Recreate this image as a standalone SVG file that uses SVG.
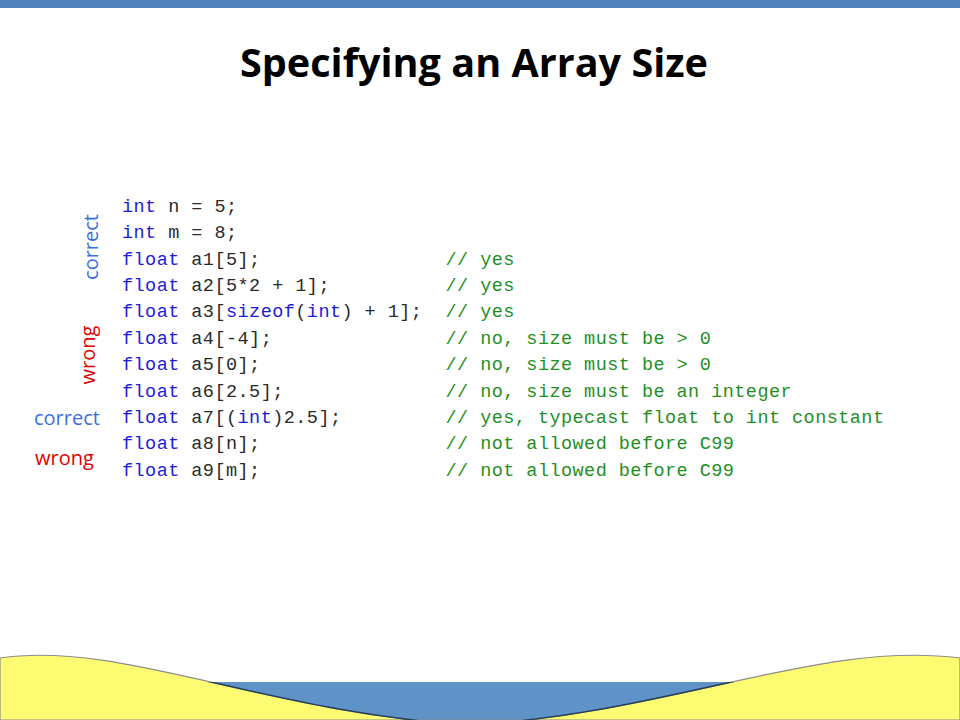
<svg xmlns="http://www.w3.org/2000/svg" width="960" height="720" viewBox="0 0 960 720">
<style>
.code{font-family:"Liberation Mono","DejaVu Sans Mono",monospace;font-size:18.5px;letter-spacing:0.45px;fill:#2a2a2a}
.k{fill:#1c1cd8}
.cm{font-family:"Liberation Mono","DejaVu Sans Mono",monospace;font-size:18.5px;letter-spacing:0.45px;fill:#1f8f1f}
.lab{font-family:"Open Sans","Liberation Sans",sans-serif;font-size:20px}
.ok{fill:#3d6fdc}
.bad{fill:#e00000}
.title{font-family:"Open Sans","Liberation Sans",sans-serif;font-weight:bold;font-size:40px;fill:#000}
</style>
<defs>
<clipPath id="blueclip"><rect x="0" y="682" width="960" height="38"/></clipPath>
</defs>
<rect width="960" height="720" fill="#ffffff"/>
<rect id="topbar" x="0" y="0" width="960" height="8" fill="#5383be"/>
<text id="title" class="title" x="474" y="77" text-anchor="middle" textLength="468" lengthAdjust="spacingAndGlyphs">Specifying an Array Size</text>

<g id="bottom">
<rect x="0" y="682" width="960" height="38" fill="#5f93c8"/>
<path d="M0,658 C120,640 265,713 470,725 C675,713 820,640 960,658 L960,720 L0,720 Z" fill="#fdfb72" stroke="#8c8c8c" stroke-width="1.2"/>
<path d="M0,658 C120,640 265,713 470,725 C675,713 820,640 960,658" fill="none" stroke="#243e5e" stroke-width="1.4" clip-path="url(#blueclip)"/>
</g>

<g id="labels">
<text class="lab ok" transform="translate(98,247) rotate(-90)" text-anchor="middle">correct</text>
<text class="lab bad" transform="translate(95,355) rotate(-90)" text-anchor="middle">wrong</text>
<text class="lab ok" x="34" y="425">correct</text>
<text class="lab bad" x="35" y="465">wrong</text>
</g>

<g id="code" xml:space="preserve">
<text class="code" x="122" y="211.7"><tspan class="k">int</tspan> n = 5;</text>
<text class="code" x="122" y="238.1"><tspan class="k">int</tspan> m = 8;</text>
<text class="code" x="122" y="264.5"><tspan class="k">float</tspan> a1[5];</text>
<text class="code" x="122" y="290.9"><tspan class="k">float</tspan> a2[5*2 + 1];</text>
<text class="code" x="122" y="317.3"><tspan class="k">float</tspan> a3[<tspan class="k">sizeof</tspan>(<tspan class="k">int</tspan>) + 1];</text>
<text class="code" x="122" y="343.7"><tspan class="k">float</tspan> a4[-4];</text>
<text class="code" x="122" y="370.1"><tspan class="k">float</tspan> a5[0];</text>
<text class="code" x="122" y="396.5"><tspan class="k">float</tspan> a6[2.5];</text>
<text class="code" x="122" y="422.9"><tspan class="k">float</tspan> a7[(<tspan class="k">int</tspan>)2.5];</text>
<text class="code" x="122" y="449.3"><tspan class="k">float</tspan> a8[n];</text>
<text class="code" x="122" y="475.7"><tspan class="k">float</tspan> a9[m];</text>
</g>

<g id="comments" xml:space="preserve">
<text class="cm" x="445.5" y="264.5">// yes</text>
<text class="cm" x="445.5" y="290.9">// yes</text>
<text class="cm" x="445.5" y="317.3">// yes</text>
<text class="cm" x="445.5" y="343.7">// no, size must be &gt; 0</text>
<text class="cm" x="445.5" y="370.1">// no, size must be &gt; 0</text>
<text class="cm" x="445.5" y="396.5">// no, size must be an integer</text>
<text class="cm" x="445.5" y="422.9">// yes, typecast float to int constant</text>
<text class="cm" x="445.5" y="449.3">// not allowed before C99</text>
<text class="cm" x="445.5" y="475.7">// not allowed before C99</text>
</g>
</svg>
